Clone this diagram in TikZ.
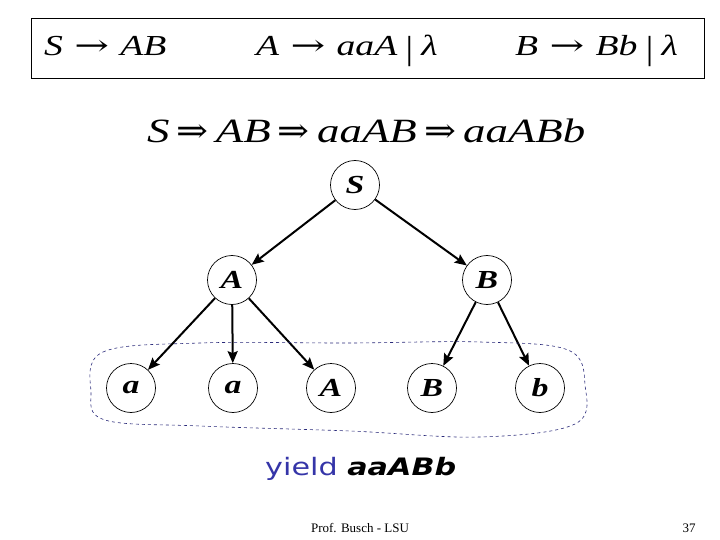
\documentclass[tikz,border=0pt]{standalone}
\usepackage{graphicx}
\usepackage{fontspec}
\setmainfont{Liberation Serif}
\newfontfamily\yieldfont{DejaVu Sans}
\newfontfamily\arrowfont{DejaVu Serif}
\usetikzlibrary{arrows.meta,positioning}
\definecolor{yieldblue}{HTML}{3535A8}
\definecolor{blobnavy}{HTML}{2A2A7A}
\newcommand{\wide}[2]{\scalebox{#1}[1]{#2}}
\newcommand{\gto}{\hspace{0.3em}{\arrowfont\upshape\wide{1.1}{→}}\hspace{0.3em}}
\newcommand{\gder}{\hspace{0.16em}{\arrowfont\upshape\wide{0.85}{⇒}}\hspace{0.16em}}
\newcommand{\gbar}{\hspace{0.22em}{\upshape\raisebox{-0.12em}{\scalebox{1}[1.15]{|}}}\hspace{0.22em}}

\begin{document}
\begin{tikzpicture}[
  x=1pt, y=-1pt,
  vert/.style={draw, circle, line width=0.7pt, minimum size=49pt, inner sep=0pt,
    font=\fontsize{26}{26}\selectfont\bfseries\itshape},
  edgearrow/.style={-{Stealth[length=12pt, width=10pt, inset=2pt]}, line width=2pt},
  rule/.style={font=\fontsize{29}{29}\selectfont\itshape, anchor=base west, inner sep=0pt},
  footer/.style={font=\fontsize{13}{13}\selectfont}
]
  \useasboundingbox (0,0) rectangle (720,540);

  % grammar box
  \draw[line width=0.8pt] (31,18) rectangle (704,78);
  \node[rule] (r1) at (44,56) {\wide{1.3}{S\gto AB}};
  \node[rule] (r2) at (256,56) {\wide{1.3}{A\gto aaA\gbar λ}};
  \node[rule] (r3) at (515,56) {\wide{1.3}{B\gto Bb\gbar λ}};

  % derivation
  \node[rule, font=\fontsize{34}{34}\selectfont\itshape] (deriv) at (147,143)
    {\wide{1.32}{S\gder AB\gder aaAB\gder aaABb}};

  % tree
  \node[vert] (S) at (355,185) {\wide{1.3}{S}};
  \node[vert] (A) at (232,280) {\wide{1.3}{A}};
  \node[vert] (B) at (487,280) {\wide{1.3}{B}};
  \node[vert] (a1) at (131,388) {\wide{1.3}{a}};
  \node[vert] (a2) at (233,388) {\wide{1.3}{a}};
  \node[vert] (A2) at (331,388) {\wide{1.3}{A}};
  \node[vert] (B2) at (432,388) {\wide{1.3}{B}};
  \node[vert] (b) at (540,388) {\wide{1.3}{b}};

  \draw[edgearrow] (S) -- (A);
  \draw[edgearrow] (S) -- (B);
  \draw[edgearrow] (A) -- (a1);
  \draw[edgearrow] (A) -- (a2);
  \draw[edgearrow] (A) -- (A2);
  \draw[edgearrow] (B) -- (B2);
  \draw[edgearrow] (B) -- (b);

  % yield region
  \draw[blobnavy, dashed, line width=0.6pt] plot[smooth cycle, tension=0.6] coordinates {
    (91,392) (103,352) (200,343) (350,343) (480,342) (568,350) (585,385)
    (575,424) (480,437) (350,431) (200,426) (105,420)};

  \node[font=\fontsize{24}{24}\selectfont\yieldfont, anchor=base west, inner sep=0pt] (yield)
    at (265,475) {\wide{1.26}{\textcolor{yieldblue}{yield} \textbf{\textit{aaABb}}}};

  % footer
  \node[footer] (prof) at (360,528) {Prof. Busch - LSU};
  \node[footer] (page) at (689,528) {37};
\end{tikzpicture}
\end{document}
